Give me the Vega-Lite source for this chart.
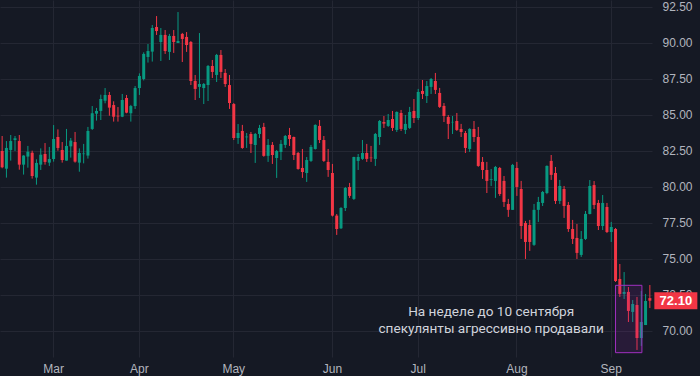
{
  "$schema": "https://vega.github.io/schema/vega-lite/v6.json",
  "width": 652,
  "height": 357,
  "padding": {"left": 0, "top": 0, "right": 4, "bottom": 2},
  "background": "#151924",
  "config": {
    "view": {"stroke": null},
    "font": "Liberation Sans",
    "axis": {"labelColor": "#b2b5be", "labelFontSize": 12, "gridColor": "#242733", "gridWidth": 1, "domain": false, "ticks": false, "title": null, "labelOverlap": false},
    "axisY": {"values": [70, 72.5, 75, 77.5, 80, 82.5, 85, 87.5, 90, 92.5], "format": ".2f", "labelPadding": 10, "grid": true}
  },
  "data": {"values": [
    {"date":"2024-02-14","open":82.50,"high":83.54,"low":81.30,"close":81.37},
    {"date":"2024-02-15","open":81.27,"high":83.19,"low":80.65,"close":82.71},
    {"date":"2024-02-16","open":82.57,"high":83.61,"low":81.83,"close":83.19},
    {"date":"2024-02-19","open":83.26,"high":83.54,"low":82.50,"close":83.38},
    {"date":"2024-02-20","open":83.19,"high":83.61,"low":81.20,"close":81.55},
    {"date":"2024-02-21","open":81.55,"high":82.20,"low":80.86,"close":82.18},
    {"date":"2024-02-22","open":82.11,"high":82.85,"low":81.34,"close":82.45},
    {"date":"2024-02-23","open":82.38,"high":82.52,"low":80.58,"close":80.76},
    {"date":"2024-02-26","open":80.65,"high":81.92,"low":80.16,"close":81.67},
    {"date":"2024-02-27","open":81.55,"high":82.68,"low":81.18,"close":82.24},
    {"date":"2024-02-28","open":82.29,"high":83.05,"low":81.55,"close":81.74},
    {"date":"2024-02-29","open":81.69,"high":82.78,"low":81.46,"close":81.94},
    {"date":"2024-03-01","open":81.94,"high":84.30,"low":81.76,"close":83.33},
    {"date":"2024-03-04","open":83.47,"high":84.00,"low":82.52,"close":82.71},
    {"date":"2024-03-05","open":82.57,"high":83.12,"low":81.69,"close":81.87},
    {"date":"2024-03-06","open":81.83,"high":84.03,"low":81.83,"close":82.85},
    {"date":"2024-03-07","open":82.82,"high":83.40,"low":82.04,"close":83.22},
    {"date":"2024-03-08","open":83.12,"high":83.82,"low":81.69,"close":81.76},
    {"date":"2024-03-11","open":81.69,"high":82.68,"low":81.06,"close":82.36},
    {"date":"2024-03-12","open":82.28,"high":82.99,"low":81.64,"close":82.32},
    {"date":"2024-03-13","open":82.18,"high":84.17,"low":81.97,"close":83.89},
    {"date":"2024-03-14","open":84.03,"high":85.62,"low":83.96,"close":85.12},
    {"date":"2024-03-15","open":85.09,"high":85.49,"low":84.61,"close":85.28},
    {"date":"2024-03-18","open":85.28,"high":86.41,"low":84.65,"close":86.11},
    {"date":"2024-03-19","open":85.99,"high":86.87,"low":85.81,"close":86.39},
    {"date":"2024-03-20","open":86.39,"high":86.60,"low":84.95,"close":85.51},
    {"date":"2024-03-21","open":85.69,"high":85.95,"low":84.54,"close":84.88},
    {"date":"2024-03-22","open":84.95,"high":85.55,"low":84.54,"close":84.90},
    {"date":"2024-03-25","open":84.88,"high":86.46,"low":84.85,"close":86.04},
    {"date":"2024-03-26","open":86.18,"high":86.39,"low":85.12,"close":85.16},
    {"date":"2024-03-27","open":85.12,"high":85.70,"low":84.54,"close":85.62},
    {"date":"2024-03-28","open":85.62,"high":87.01,"low":85.42,"close":86.87},
    {"date":"2024-04-01","open":86.87,"high":87.89,"low":86.39,"close":87.71},
    {"date":"2024-04-02","open":87.50,"high":89.35,"low":87.40,"close":89.24},
    {"date":"2024-04-03","open":89.03,"high":89.93,"low":88.64,"close":89.44},
    {"date":"2024-04-04","open":89.40,"high":91.25,"low":88.71,"close":91.04},
    {"date":"2024-04-05","open":91.11,"high":91.87,"low":90.56,"close":90.83},
    {"date":"2024-04-08","open":90.07,"high":91.04,"low":88.75,"close":90.56},
    {"date":"2024-04-09","open":90.56,"high":90.90,"low":89.24,"close":89.44},
    {"date":"2024-04-10","open":89.38,"high":90.63,"low":88.82,"close":90.49},
    {"date":"2024-04-11","open":90.49,"high":90.90,"low":89.31,"close":90.07},
    {"date":"2024-04-12","open":90.00,"high":92.15,"low":90.00,"close":90.14},
    {"date":"2024-04-15","open":90.63,"high":90.70,"low":88.68,"close":90.28},
    {"date":"2024-04-16","open":90.42,"high":90.76,"low":89.38,"close":89.86},
    {"date":"2024-04-17","open":90.07,"high":90.14,"low":87.08,"close":87.36},
    {"date":"2024-04-18","open":87.36,"high":87.78,"low":86.04,"close":86.81},
    {"date":"2024-04-19","open":86.95,"high":90.69,"low":86.18,"close":87.15},
    {"date":"2024-04-22","open":86.87,"high":87.22,"low":85.76,"close":87.15},
    {"date":"2024-04-23","open":87.08,"high":88.47,"low":85.97,"close":88.40},
    {"date":"2024-04-24","open":88.40,"high":88.82,"low":87.57,"close":87.99},
    {"date":"2024-04-25","open":87.78,"high":89.24,"low":87.29,"close":89.17},
    {"date":"2024-04-26","open":89.17,"high":89.51,"low":87.57,"close":87.99},
    {"date":"2024-04-29","open":87.92,"high":88.19,"low":86.95,"close":87.15},
    {"date":"2024-04-30","open":87.08,"high":87.78,"low":85.42,"close":85.83},
    {"date":"2024-05-01","open":85.76,"high":85.83,"low":83.26,"close":83.40},
    {"date":"2024-05-02","open":83.40,"high":84.37,"low":82.99,"close":83.75},
    {"date":"2024-05-03","open":83.89,"high":84.31,"low":82.65,"close":82.71},
    {"date":"2024-05-06","open":83.45,"high":83.75,"low":82.71,"close":83.50},
    {"date":"2024-05-07","open":83.68,"high":83.82,"low":82.36,"close":82.99},
    {"date":"2024-05-08","open":82.92,"high":83.75,"low":81.67,"close":83.68},
    {"date":"2024-05-09","open":83.68,"high":84.31,"low":83.40,"close":84.10},
    {"date":"2024-05-10","open":84.17,"high":84.45,"low":82.10,"close":82.16},
    {"date":"2024-05-13","open":82.16,"high":83.33,"low":81.74,"close":82.92},
    {"date":"2024-05-14","open":82.92,"high":83.12,"low":81.60,"close":82.22},
    {"date":"2024-05-15","open":82.01,"high":82.57,"low":80.63,"close":82.50},
    {"date":"2024-05-16","open":82.43,"high":83.26,"low":81.87,"close":82.99},
    {"date":"2024-05-17","open":82.92,"high":83.61,"low":82.71,"close":83.54},
    {"date":"2024-05-20","open":83.61,"high":84.10,"low":82.85,"close":83.33},
    {"date":"2024-05-21","open":83.47,"high":83.50,"low":81.87,"close":82.22},
    {"date":"2024-05-22","open":82.36,"high":82.43,"low":81.20,"close":81.25},
    {"date":"2024-05-23","open":81.32,"high":82.64,"low":80.63,"close":81.04},
    {"date":"2024-05-24","open":80.97,"high":82.08,"low":80.35,"close":81.87},
    {"date":"2024-05-27","open":81.81,"high":82.92,"low":81.74,"close":82.78},
    {"date":"2024-05-28","open":82.64,"high":84.35,"low":82.60,"close":84.31},
    {"date":"2024-05-29","open":84.24,"high":84.65,"low":83.05,"close":83.26},
    {"date":"2024-05-30","open":83.26,"high":83.54,"low":81.74,"close":81.81},
    {"date":"2024-05-31","open":81.74,"high":82.64,"low":80.70,"close":81.18},
    {"date":"2024-06-03","open":80.97,"high":81.60,"low":77.95,"close":78.01},
    {"date":"2024-06-04","open":78.01,"high":78.12,"low":76.67,"close":77.08},
    {"date":"2024-06-05","open":77.13,"high":78.60,"low":77.08,"close":78.54},
    {"date":"2024-06-06","open":78.54,"high":80.00,"low":78.33,"close":79.93},
    {"date":"2024-06-07","open":80.00,"high":80.28,"low":79.24,"close":79.38},
    {"date":"2024-06-10","open":79.17,"high":82.10,"low":79.10,"close":82.08},
    {"date":"2024-06-11","open":81.81,"high":82.29,"low":81.18,"close":82.08},
    {"date":"2024-06-12","open":81.95,"high":83.26,"low":81.88,"close":82.36},
    {"date":"2024-06-13","open":82.36,"high":82.99,"low":81.74,"close":81.95},
    {"date":"2024-06-14","open":82.04,"high":82.85,"low":81.74,"close":82.00},
    {"date":"2024-06-17","open":81.95,"high":83.75,"low":81.46,"close":83.68},
    {"date":"2024-06-18","open":83.47,"high":84.65,"low":82.92,"close":84.58},
    {"date":"2024-06-19","open":84.51,"high":84.93,"low":84.10,"close":84.40},
    {"date":"2024-06-20","open":84.24,"high":85.07,"low":84.17,"close":84.65},
    {"date":"2024-06-21","open":84.72,"high":85.28,"low":83.89,"close":84.10},
    {"date":"2024-06-24","open":83.96,"high":85.25,"low":83.82,"close":85.21},
    {"date":"2024-06-25","open":85.14,"high":85.35,"low":83.89,"close":84.03},
    {"date":"2024-06-26","open":83.96,"high":85.00,"low":83.68,"close":84.38},
    {"date":"2024-06-27","open":84.10,"high":85.56,"low":84.03,"close":85.21},
    {"date":"2024-06-28","open":85.28,"high":86.11,"low":84.44,"close":84.79},
    {"date":"2024-07-01","open":84.79,"high":86.81,"low":84.65,"close":86.60},
    {"date":"2024-07-02","open":86.67,"high":87.43,"low":86.11,"close":86.46},
    {"date":"2024-07-03","open":86.32,"high":87.36,"low":85.83,"close":87.01},
    {"date":"2024-07-04","open":86.95,"high":87.57,"low":86.46,"close":87.50},
    {"date":"2024-07-05","open":87.36,"high":87.92,"low":86.46,"close":86.74},
    {"date":"2024-07-08","open":86.53,"high":86.88,"low":85.49,"close":85.56},
    {"date":"2024-07-09","open":85.63,"high":85.83,"low":84.51,"close":84.93},
    {"date":"2024-07-10","open":84.86,"high":85.00,"low":83.33,"close":84.38},
    {"date":"2024-07-11","open":84.49,"high":84.93,"low":83.68,"close":84.52},
    {"date":"2024-07-12","open":84.58,"high":85.14,"low":83.89,"close":83.96},
    {"date":"2024-07-15","open":84.03,"high":84.38,"low":83.47,"close":83.82},
    {"date":"2024-07-16","open":83.75,"high":83.89,"low":82.36,"close":82.71},
    {"date":"2024-07-17","open":82.64,"high":84.08,"low":82.43,"close":84.03},
    {"date":"2024-07-18","open":84.03,"high":84.58,"low":83.12,"close":83.47},
    {"date":"2024-07-19","open":83.47,"high":84.17,"low":81.40,"close":81.46},
    {"date":"2024-07-22","open":81.74,"high":82.08,"low":80.56,"close":81.18},
    {"date":"2024-07-23","open":81.18,"high":81.74,"low":79.58,"close":80.42},
    {"date":"2024-07-24","open":80.49,"high":81.25,"low":80.07,"close":80.54},
    {"date":"2024-07-25","open":80.42,"high":81.46,"low":79.24,"close":81.39},
    {"date":"2024-07-26","open":81.32,"high":81.39,"low":79.38,"close":79.51},
    {"date":"2024-07-29","open":80.42,"high":80.76,"low":78.61,"close":78.96},
    {"date":"2024-07-30","open":78.82,"high":79.17,"low":77.92,"close":78.41},
    {"date":"2024-07-31","open":78.41,"high":81.60,"low":78.40,"close":81.53},
    {"date":"2024-08-01","open":81.32,"high":81.74,"low":79.38,"close":80.00},
    {"date":"2024-08-02","open":79.86,"high":80.42,"low":76.39,"close":77.29},
    {"date":"2024-08-05","open":77.50,"high":77.64,"low":75.00,"close":76.18},
    {"date":"2024-08-06","open":77.36,"high":77.71,"low":75.56,"close":76.18},
    {"date":"2024-08-07","open":75.98,"high":78.82,"low":75.91,"close":78.41},
    {"date":"2024-08-08","open":78.41,"high":79.31,"low":77.57,"close":78.96},
    {"date":"2024-08-09","open":78.89,"high":79.72,"low":78.68,"close":79.65},
    {"date":"2024-08-12","open":79.58,"high":81.50,"low":79.50,"close":81.46},
    {"date":"2024-08-13","open":81.81,"high":82.22,"low":80.49,"close":80.84},
    {"date":"2024-08-14","open":80.97,"high":81.39,"low":78.82,"close":79.03},
    {"date":"2024-08-15","open":79.03,"high":80.49,"low":78.82,"close":80.07},
    {"date":"2024-08-16","open":79.86,"high":80.07,"low":77.85,"close":78.68},
    {"date":"2024-08-19","open":78.75,"high":78.96,"low":76.88,"close":77.08},
    {"date":"2024-08-20","open":77.08,"high":77.71,"low":76.04,"close":76.39},
    {"date":"2024-08-21","open":76.46,"high":77.43,"low":75.00,"close":75.42},
    {"date":"2024-08-22","open":75.28,"high":76.94,"low":75.14,"close":76.39},
    {"date":"2024-08-23","open":76.39,"high":78.33,"low":76.32,"close":78.13},
    {"date":"2024-08-26","open":78.12,"high":80.48,"low":78.10,"close":80.07},
    {"date":"2024-08-27","open":80.13,"high":80.41,"low":78.47,"close":78.75},
    {"date":"2024-08-28","open":78.89,"high":79.10,"low":77.01,"close":77.29},
    {"date":"2024-08-29","open":77.29,"high":79.44,"low":77.01,"close":78.89},
    {"date":"2024-08-30","open":78.61,"high":78.89,"low":76.80,"close":76.87},
    {"date":"2024-09-02","open":76.87,"high":77.57,"low":76.18,"close":77.22},
    {"date":"2024-09-03","open":77.08,"high":77.15,"low":73.40,"close":73.47},
    {"date":"2024-09-04","open":73.61,"high":74.65,"low":72.36,"close":72.57},
    {"date":"2024-09-05","open":72.57,"high":74.09,"low":72.22,"close":72.71},
    {"date":"2024-09-06","open":72.71,"high":73.05,"low":70.62,"close":71.39},
    {"date":"2024-09-09","open":71.32,"high":72.15,"low":70.62,"close":71.87},
    {"date":"2024-09-10","open":71.80,"high":72.36,"low":68.68,"close":69.51},
    {"date":"2024-09-11","open":69.51,"high":72.77,"low":68.96,"close":70.62},
    {"date":"2024-09-12","open":70.41,"high":72.57,"low":70.41,"close":72.08},
    {"date":"2024-09-13","open":72.28,"high":73.19,"low":71.59,"close":72.10}
  ]},
  "layer": [
    {
      "mark": {"type": "rule", "strokeWidth": 1},
      "encoding": {
        "x": {"field": "date", "type": "ordinal",
              "scale": {"type": "band", "paddingInner": 0, "paddingOuter": 0},
              "axis": {"values": ["2024-03-01","2024-04-01","2024-05-01","2024-06-03","2024-07-01","2024-08-01","2024-09-02"],
                       "labelExpr": "utcFormat(toDate(datum.value), '%b')", "labelAngle": 0, "labelPadding": 6, "grid": true, "title": null, "labelOverlap": false}},
        "y": {"field": "low", "type": "quantitative",
              "scale": {"domain": [68.19, 92.986], "nice": false, "zero": false},
              "axis": {"orient": "right", "values": [70, 72.5, 75, 77.5, 80, 82.5, 85, 87.5, 90, 92.5], "format": ".2f", "labelPadding": 10, "grid": true, "title": null, "labelOverlap": false}},
        "y2": {"field": "high"},
        "color": {"condition": {"test": "datum.close >= datum.open", "value": "#089981"}, "value": "#f23645"}
      }
    },
    {
      "mark": {"type": "bar", "size": 3},
      "encoding": {
        "x": {"field": "date", "type": "ordinal", "scale": {"type": "band", "paddingInner": 0, "paddingOuter": 0}},
        "y": {"field": "open", "type": "quantitative", "axis": {"orient": "right", "values": [70, 72.5, 75, 77.5, 80, 82.5, 85, 87.5, 90, 92.5], "format": ".2f", "labelPadding": 10, "grid": true, "title": null, "labelOverlap": false}},
        "y2": {"field": "close"},
        "color": {"condition": {"test": "datum.close >= datum.open", "value": "#089981"}, "value": "#f23645"}
      }
    },
    {
      "data": {"values": [{"start": "2024-09-03", "end": "2024-09-11", "top": 73.17, "bottom": 68.49}]},
      "mark": {"type": "rect", "fill": "#9c27b0", "fillOpacity": 0.15, "stroke": "#a030c0", "strokeWidth": 1},
      "encoding": {
        "x": {"field": "start", "type": "ordinal", "bandPosition": 0.5, "scale": {"type": "band", "paddingInner": 0, "paddingOuter": 0}},
        "x2": {"field": "end", "bandPosition": 0.65},
        "y": {"field": "top", "type": "quantitative", "axis": {"orient": "right", "values": [70, 72.5, 75, 77.5, 80, 82.5, 85, 87.5, 90, 92.5], "format": ".2f", "labelPadding": 10, "grid": true, "title": null, "labelOverlap": false}},
        "y2": {"field": "bottom"}
      }
    },
    {
      "data": {"values": [
        {"date": "2024-07-24", "price": 71.32, "label": "На неделе до 10 сентября"},
        {"date": "2024-07-24", "price": 70.14, "label": "спекулянты агрессивно продавали"}
      ]},
      "mark": {"type": "text", "align": "center", "baseline": "middle", "fontSize": 13.6, "font": "Roboto", "color": "#d1d4dc"},
      "encoding": {
        "x": {"field": "date", "type": "ordinal", "scale": {"type": "band", "paddingInner": 0, "paddingOuter": 0}},
        "y": {"field": "price", "type": "quantitative", "axis": {"orient": "right", "values": [70, 72.5, 75, 77.5, 80, 82.5, 85, 87.5, 90, 92.5], "format": ".2f", "labelPadding": 10, "grid": true, "title": null, "labelOverlap": false}},
        "text": {"field": "label"}
      }
    },
    {
      "transform": [{"filter": "datum.date == '2024-09-13'"}],
      "mark": {"type": "point", "shape": "M-1,-0.395L1,-0.395L1,0.395L-1,0.395Z", "size": 1849, "filled": true, "color": "#f23645", "opacity": 1, "strokeWidth": 0, "xOffset": 26},
      "encoding": {
        "x": {"field": "date", "type": "ordinal", "scale": {"type": "band", "paddingInner": 0, "paddingOuter": 0}},
        "y": {"field": "close", "type": "quantitative", "axis": {"orient": "right", "values": [70, 72.5, 75, 77.5, 80, 82.5, 85, 87.5, 90, 92.5], "format": ".2f", "labelPadding": 10, "grid": true, "title": null, "labelOverlap": false}}
      }
    },
    {
      "transform": [{"filter": "datum.date == '2024-09-13'"}],
      "mark": {"type": "text", "dx": 26, "align": "center", "baseline": "middle", "color": "#ffffff", "fontSize": 13, "fontWeight": "bold"},
      "encoding": {
        "x": {"field": "date", "type": "ordinal", "scale": {"type": "band", "paddingInner": 0, "paddingOuter": 0}},
        "y": {"field": "close", "type": "quantitative", "axis": {"orient": "right", "values": [70, 72.5, 75, 77.5, 80, 82.5, 85, 87.5, 90, 92.5], "format": ".2f", "labelPadding": 10, "grid": true, "title": null, "labelOverlap": false}},
        "text": {"field": "close", "type": "quantitative", "format": ".2f"}
      }
    }
  ]
}
